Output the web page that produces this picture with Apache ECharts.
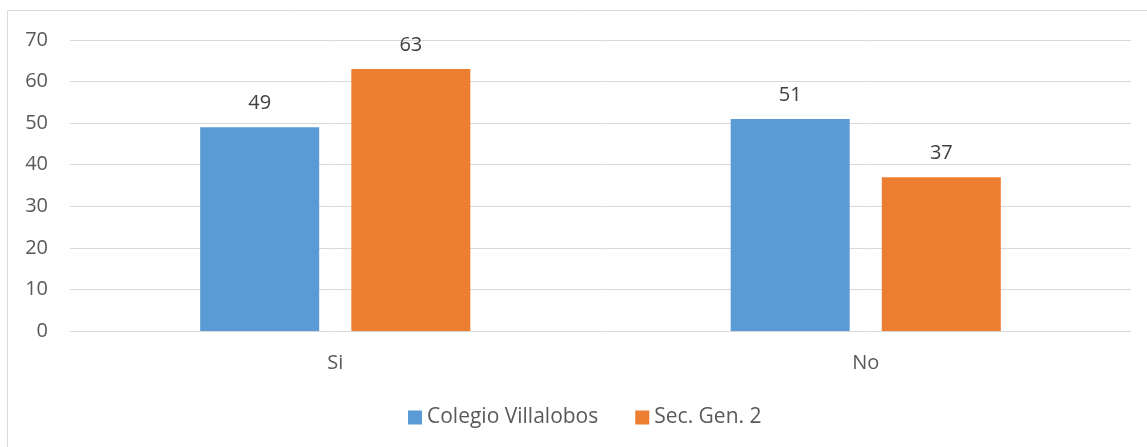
<!DOCTYPE html>
<html>
<head>
<meta charset="utf-8">
<script src="https://cdn.jsdelivr.net/npm/echarts@6/dist/echarts.min.js"></script>
<style>
  html, body { margin: 0; padding: 0; background: #fff; }
  #main { width: 1147px; height: 447px; }
</style>
</head>
<body>
<div id="main"></div>
<script>
var categories = ['Si', 'No'];
var colegio = [49, 51];
var secGen = [63, 37];
var yTicks = [0, 10, 20, 30, 40, 50, 60, 70];

var myChart = echarts.init(document.getElementById('main'));

var textColor = '#595959';
var fontFam = 'Open Sans, Noto Sans, sans-serif';
var fs = 20;

var option = {
    animation: false,
    textStyle: { fontFamily: fontFam },
    graphic: [{
        type: 'rect',
        shape: { x: 7.5, y: 10.5, width: 1200, height: 500 },
        style: { fill: 'none', stroke: '#D9D9D9', lineWidth: 1 },
        silent: true
    }],
    grid: { left: 70, right: 16, top: 40, bottom: 116 },
    legend: {
        top: 402,
        left: 403,
        itemWidth: 14,
        itemHeight: 14,
        itemGap: 37,
        icon: 'rect',
        textStyle: { color: textColor, fontSize: 21, fontFamily: fontFam },
        data: ['Colegio Villalobos', 'Sec. Gen. 2']
    },
    xAxis: {
        type: 'category',
        data: categories,
        axisLine: { show: false },
        axisTick: { show: false },
        axisLabel: { color: textColor, fontSize: fs, margin: 22, fontFamily: fontFam }
    },
    yAxis: {
        type: 'value',
        min: yTicks[0],
        max: yTicks[yTicks.length - 1],
        interval: 10,
        axisLine: { show: false },
        axisTick: { show: false },
        axisLabel: { color: textColor, fontSize: fs, margin: 22, fontFamily: fontFam },
        splitLine: { lineStyle: { color: '#D9D9D9', width: 1 } }
    },
    series: [
        {
            name: 'Colegio Villalobos',
            type: 'bar',
            data: colegio,
            barWidth: 119,
            barGap: '27%',
            itemStyle: { color: '#5B9BD5' },
            label: { show: true, position: 'top', distance: 14, color: '#404040', fontSize: fs, fontFamily: fontFam }
        },
        {
            name: 'Sec. Gen. 2',
            type: 'bar',
            data: secGen,
            barWidth: 119,
            itemStyle: { color: '#ED7D31' },
            label: { show: true, position: 'top', distance: 14, color: '#404040', fontSize: fs, fontFamily: fontFam }
        }
    ]
};

myChart.setOption(option);
</script>
</body>
</html>
